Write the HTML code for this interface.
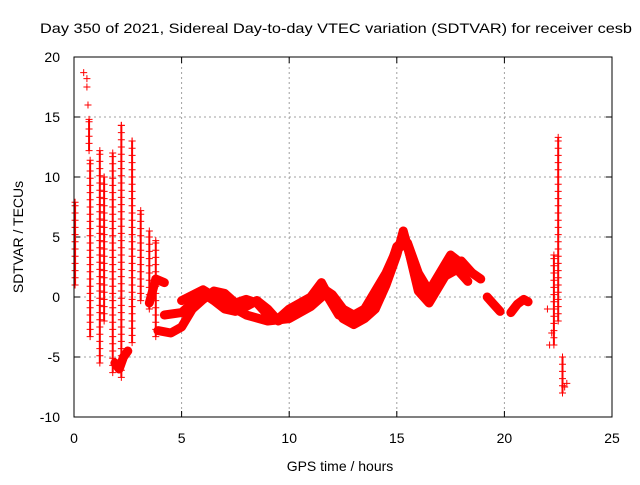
<!DOCTYPE html>
<html><head><meta charset="utf-8"><style>
body{margin:0;background:#fff}
svg text{font-family:"Liberation Sans",sans-serif;font-size:14px;fill:#000}
</style></head><body>
<svg id="chart" width="640" height="480" xmlns="http://www.w3.org/2000/svg">
<rect width="640" height="480" fill="#fff"/>
<text x="336" y="33" text-anchor="middle" textLength="592" lengthAdjust="spacingAndGlyphs">Day 350 of 2021, Sidereal Day-to-day VTEC variation (SDTVAR) for receiver cesb</text>
<g id="grid"></g>
<g id="ticks"></g>
<g id="marks"></g>
<rect x="74" y="57" width="538" height="360" fill="none" stroke="#000" stroke-width="1"/>
<text x="340" y="471" text-anchor="middle">GPS time / hours</text>
<text transform="translate(23,237) rotate(-90)" text-anchor="middle">SDTVAR / TECUs</text>
</svg>
<script>
const xTicks=[0,5,10,15,20,25];
const yTicks=[-10,-5,0,5,10,15,20];
const track1=[[3.9,-2.8],[4.5,-3],[5,-2.5],[5.5,-1],[6,-0.2],[6.5,0.5],[7,0.3],[7.5,-0.5],[8,-0.2],[8.5,-0.5],[9,-1.5],[9.5,-1.8],[10,-1],[10.5,-0.5],[11,0],[11.5,1.2],[12,-0.5],[12.5,-1.8],[13,-2.3],[13.5,-1.8],[14,-1],[14.5,1],[15,3.5],[15.3,5.5],[15.6,3.5],[16,0.5],[16.5,-0.5],[17,1],[17.5,2.5],[18,3],[18.5,2],[18.9,1.5]];
const track2=[[4.2,-1.5],[5,-1.3],[5.5,-0.5],[6,0.3],[6.5,-0.3],[7,-1],[7.5,-1.2],[8,-0.8],[8.5,-0.3],[9,-1],[9.5,-2],[10,-1.5],[10.5,-0.8],[11,-0.3],[11.5,0.8],[12,0.2],[12.5,-1],[13,-1.5],[13.5,-1],[14,0.5],[14.5,2],[15,4],[15.5,4.5],[16,2],[16.5,0.5],[17,2],[17.5,3.5],[18,2.8],[18.5,2]];
const track3=[[5,-0.3],[6,0.6],[7,-0.5],[8,-1.5],[9,-2],[10,-1.8],[11,-0.8],[11.7,0.3],[12.3,-1.5],[13,-2],[14,-0.5],[14.5,1.5],[15,4.2],[15.4,4.8],[16,1],[16.4,0],[17,1.5],[17.8,2.3],[18.3,1.3]];
const track4=[[19.2,0],[19.5,-0.6],[19.8,-1.2]];
const track5=[[20.3,-1.3],[20.6,-0.6],[20.9,-0.2],[21.1,-0.4]];
const track6=[[1.9,-5.5],[2.1,-6],[2.3,-5],[2.5,-4.5]];
const track7=[[3.5,-0.5],[3.8,1.5],[4.2,1.2]];
const colX=[0.05,0.7,0.75,1.2,1.4,1.8,2.2,2.7,3.1,3.5,3.8,22.3,22.5,22.7];
const colLow=[1.0,12.2,-3.3,-5.5,-2,-6.3,-6.7,-3.8,-0.3,-1,-3.3,-4,-2,-8];
const colHigh=[7.9,14.8,11.4,12.2,10,12,14.3,13,7.2,5.5,4.7,3.5,13.3,-5];
const scatterX=[0.45,0.6,0.6,0.65,22.0,22.1,22.2,22.8,22.9];
const scatterY=[18.7,17.5,18.2,16,-1,-4,-3,-7.5,-7.2];
const X=h=>74+h*538/25, Y=v=>417-(v+10)*12;
const ns="http://www.w3.org/2000/svg";
const grid=document.getElementById('grid'),ticks=document.getElementById('ticks'),marks=document.getElementById('marks');
function mk(t,a,p){const e=document.createElementNS(ns,t);for(const k in a)e.setAttribute(k,a[k]);p.appendChild(e);return e;}
xTicks.forEach(t=>{
 if(t>0&&t<25){const g=mk('line',{x1:X(t),x2:X(t),y1:57,y2:417,stroke:'#a0a0a0','stroke-dasharray':'2,3'},grid);
 }
 const tk=mk('path',{d:`M${X(t)},417v-6M${X(t)},57v6`,stroke:'#000'},ticks);
 
 const l=mk('text',{x:X(t),y:443,'text-anchor':'middle'},ticks);l.textContent=t;
 
});
yTicks.forEach(t=>{
 if(t>-10&&t<20){const g=mk('line',{x1:74,x2:612,y1:Y(t),y2:Y(t),stroke:'#a0a0a0','stroke-dasharray':'2,3'},grid);
 }
 const tk=mk('path',{d:`M74,${Y(t)}h6M612,${Y(t)}h-6`,stroke:'#000'},ticks);
 
 const l=mk('text',{x:60,y:Y(t)+5,'text-anchor':'end'},ticks);l.textContent=t;
 
});
function cross(h,v){const p=mk('path',{d:`M${X(h)-3.5},${Y(v)}h7M${X(h)},${Y(v)-3.5}v7`,stroke:'#f00','stroke-width':1},marks);
 }
[track1,track2,track3,track4,track5,track6,track7].forEach(tr=>{
 const ln=mk('polyline',{points:tr.map(p=>X(p[0])+','+Y(p[1])).join(' '),fill:'none',stroke:'#f00','stroke-width':9,'stroke-linejoin':'round','stroke-linecap':'round'},marks);
 
 tr.forEach(p=>cross(p[0],p[1]));
});
colX.forEach((h,i)=>{
 const r=mk('line',{x1:X(h),x2:X(h),y1:Y(colHigh[i]),y2:Y(colLow[i]),stroke:'#f00','stroke-width':2},marks);
 
 for(let v=colLow[i];v<=colHigh[i]+0.01;v+=0.6)cross(h,v);
 cross(h,colHigh[i]);
});
scatterX.forEach((h,i)=>cross(h,scatterY[i]));
</script>
</body></html>
